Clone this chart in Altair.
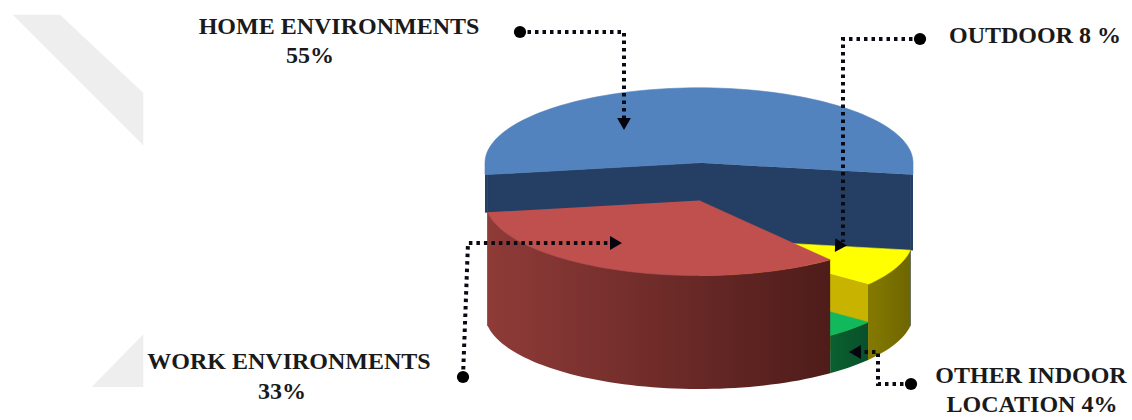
import math
import altair as alt
import pandas as pd

# Segments in drawing order around the cylinder, starting at the right-hand edge
segments = ["OUTDOOR", "OTHER INDOOR", "WORK", "HOME"]
shares = [8, 4, 33, 55]
levels = [2, 1, 3, 4]

top_colors = ["#FFFF00", "#12B85C", "#BF504D", "#5383BE"]
wall_stops = [
    ["#857A00", "#6E6600"],
    ["#0B6030", "#08502A"],
    ["#8F3B38", "#4E1C1A"],
    ["#243F63", "#243F63"],
]
face_colors = ["#C8B400", "#0B6030", "#4E1C1A", "#243F63"]

label_texts = ["HOME ENVIRONMENTS", "55%", "WORK ENVIRONMENTS", "33%",
               "OUTDOOR 8 %", "OTHER INDOOR", "LOCATION 4%"]
label_x = [339, 310, 289, 282, 1035, 1031, 1032]
label_y = [27, 56, 362, 392, 36, 376, 405]

leader_paths = [
    [(520, 32), (624, 32), (624, 120)],
    [(920, 39), (843, 39), (843, 242)],
    [(463, 377), (468, 243), (612, 243)],
    [(911, 384), (878, 384), (878, 352), (858, 352)],
]
arrow_tips = [(624, 124, "triangle-down", 0), (838, 247, "triangle-down", 32),
              (616, 243, "triangle-right", 0), (855, 352, "triangle-left", 0)]

shade_polys = [
    [(13, 15), (60, 15), (143, 93), (143, 145)],
    [(92, 387), (143, 335), (143, 387)],
]

# Cylinder geometry on the canvas
CX, BASE_Y, RX, RY, STEP_H = 699, 314, 214, 75, 37.8
START_DEG = 9

X = alt.X("x:Q", scale=alt.Scale(domain=[0, 1132], range=[0, 1132]), axis=None)
Y = alt.Y("y:Q", scale=alt.Scale(domain=[0, 420], range=[0, 420]), axis=None)


def rim(t_deg, cy):
    t = math.radians(t_deg)
    return CX + RX * math.cos(t), cy + RY * math.sin(t)


def arc(t1, t2, cy):
    n = max(2, int(abs(t2 - t1) / 2))
    return [rim(t1 + (t2 - t1) * k / n, cy) for k in range(n + 1)]


def polygon(points, fill):
    df = pd.DataFrame(points, columns=["x", "y"])
    df["i"] = range(len(df))
    if isinstance(fill, str):
        mark = alt.Chart(df).mark_line(fill=fill, stroke=fill, strokeWidth=0.6)
    else:
        mark = alt.Chart(df).mark_line(fill=fill, strokeOpacity=0)
    return mark.encode(x=X, y=Y, order="i:Q")


def gradient(stops):
    if stops[0] == stops[1]:
        return stops[0]
    return alt.LinearGradient(
        gradient="linear", x1=0, x2=1, y1=0, y2=0,
        stops=[alt.GradientStop(color=stops[0], offset=0),
               alt.GradientStop(color=stops[1], offset=1)])


# Sector spans derived from the shares
spans = {}
angle = START_DEG
for name, share in zip(segments, shares):
    spans[name] = (angle, angle + share * 3.6)
    angle += share * 3.6


def level_y(idx):
    return BASE_Y - levels[idx] * STEP_H


def slice_layers(idx, faces):
    t1, t2 = spans[segments[idx]]
    top_y = level_y(idx)
    out = []
    # radial cut faces
    for t in faces:
        a, b = rim(t, top_y), rim(t, BASE_Y)
        out.append(polygon([(CX, top_y), a, b, (CX, BASE_Y)], face_colors[idx]))
    # curved outer wall: only the part facing the viewer
    for lo, hi in [(0, 180), (360, 540)]:
        a, b = max(t1, lo), min(t2, hi)
        if a < b:
            pts = arc(a, b, top_y) + arc(b, a, BASE_Y)
            out.append(polygon(pts, gradient(wall_stops[idx])))
    # flat top
    out.append(polygon([(CX, top_y)] + arc(t1, t2, top_y), top_colors[idx]))
    return out


def home_layers():
    # The tallest segment: its side slivers stop where the lower neighbours begin
    idx = 3
    t1, t2 = spans["HOME"]
    top_y = level_y(idx)
    color = face_colors[idx]
    out = []
    for t, floor_idx in [(t1, 2), (t2, 0)]:
        a, b = rim(t, top_y), rim(t, BASE_Y)
        out.append(polygon([(CX, top_y), a, b, (CX, BASE_Y)], color))
    left_x, right_x = CX - RX, CX + RX
    out.append(polygon([(left_x, rim(t1, top_y)[1]), rim(t1, top_y),
                        rim(t1, level_y(2)), (left_x, rim(t1, level_y(2))[1])], color))
    out.append(polygon([(right_x, rim(t2, top_y)[1]), rim(t2, top_y),
                        rim(t2, level_y(0)), (right_x, rim(t2, level_y(0))[1])], color))
    top = ([(CX, top_y), rim(t1, top_y), (left_x, rim(t1, top_y)[1])]
           + arc(180, 360, top_y)
           + [(right_x, rim(t2, top_y)[1]), rim(t2, top_y)])
    out.append(polygon(top, top_colors[idx]))
    return out


layers = []
for pts in shade_polys:
    layers.append(polygon(pts, "#EEEEEE"))
layers += home_layers()
layers += slice_layers(0, [spans["OUTDOOR"][1]])
layers += slice_layers(1, [])
layers += slice_layers(2, [])

for path in leader_paths:
    df = pd.DataFrame(path, columns=["x", "y"])
    df["i"] = range(len(df))
    layers.append(alt.Chart(df).mark_line(
        color="#0A0A14", strokeWidth=4, strokeDash=[3.5, 4]).encode(x=X, y=Y, order="i:Q"))
    start = pd.DataFrame([path[0]], columns=["x", "y"])
    layers.append(alt.Chart(start).mark_point(
        shape="circle", filled=True, color="#000000", size=150, opacity=1).encode(x=X, y=Y))

for ax, ay, shape, rot in arrow_tips:
    df = pd.DataFrame([(ax, ay)], columns=["x", "y"])
    layers.append(alt.Chart(df).mark_point(
        shape=shape, filled=True, color="#05050F", size=190, opacity=1, angle=rot).encode(x=X, y=Y))

labels = pd.DataFrame({"x": label_x, "y": label_y, "t": label_texts})
layers.append(alt.Chart(labels).mark_text(
    font="Liberation Serif", fontWeight="bold", fontSize=24, color="#1A1A1A",
    align="center", baseline="middle").encode(x=X, y=Y, text="t:N"))

chart = alt.layer(*layers).properties(
    width=1132, height=420, padding=0, background="white",
    autosize=alt.AutoSizeParams(type="none"),
).configure_view(stroke=None)

chart.save("out.html", embed_options={"renderer": "svg", "actions": False})
